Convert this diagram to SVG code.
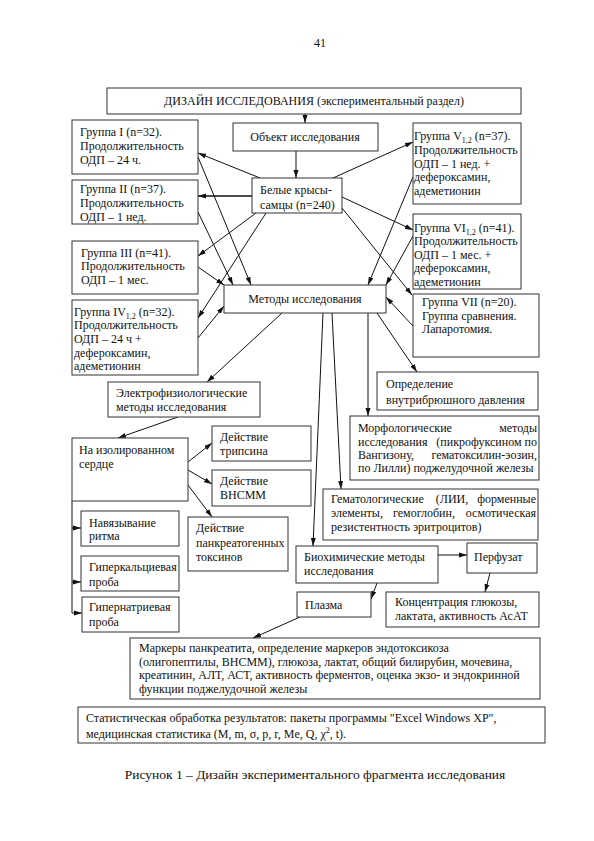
<svg xmlns="http://www.w3.org/2000/svg" width="594" height="841" viewBox="0 0 594 841" font-family="'Liberation Serif', 'Times New Roman', 'DejaVu Serif', serif">
<style>
text{font-family:'Liberation Serif','Times New Roman','DejaVu Serif',serif;font-size:12px;fill:#111}
.c{text-anchor:middle}
.e{text-anchor:end}
.sub{font-size:8px}
rect{fill:#fff;stroke:#333;stroke-width:1}
#connectors line{stroke:#111;stroke-width:1;fill:none}
</style>
<defs>
<marker id="ah" markerWidth="8" markerHeight="6" refX="8" refY="3" orient="auto" markerUnits="userSpaceOnUse">
<path d="M0,0.5 L8,3 L0,5.5 z" fill="#111"/>
</marker>
</defs>
<rect x="0" y="0" width="594" height="841" style="stroke:none;fill:#fff"/>
<text x="320" y="47" class="c">41</text>

<g id="connectors">
<line x1="305" y1="114" x2="305" y2="123" marker-end="url(#ah)"/>
<line x1="296" y1="151" x2="296" y2="178" marker-end="url(#ah)"/>
<line x1="260" y1="178" x2="198" y2="153" marker-end="url(#ah)"/>
<line x1="252" y1="196" x2="198" y2="196" marker-end="url(#ah)" style="stroke-width:1.5"/>
<line x1="256" y1="213" x2="198" y2="256" marker-end="url(#ah)"/>
<line x1="266" y1="213" x2="198" y2="318" marker-end="url(#ah)"/>
<line x1="333" y1="178" x2="413" y2="142" marker-end="url(#ah)"/>
<line x1="342" y1="197" x2="413" y2="230" marker-end="url(#ah)"/>
<line x1="342" y1="208" x2="412" y2="295" marker-end="url(#ah)"/>
<line x1="198" y1="157" x2="251" y2="285" marker-end="url(#ah)"/>
<line x1="198" y1="212" x2="233" y2="285" marker-end="url(#ah)"/>
<line x1="198" y1="267" x2="224" y2="285" marker-end="url(#ah)"/>
<line x1="198" y1="338" x2="224" y2="306" marker-end="url(#ah)"/>
<line x1="413" y1="177" x2="368" y2="285" marker-end="url(#ah)"/>
<line x1="413" y1="236" x2="386" y2="285" marker-end="url(#ah)"/>
<line x1="413" y1="326" x2="386" y2="297" marker-end="url(#ah)"/>
<line x1="377" y1="313" x2="417" y2="372" marker-end="url(#ah)"/>
<line x1="368" y1="313" x2="368" y2="416" marker-end="url(#ah)"/>
<line x1="332" y1="313" x2="341" y2="489" marker-end="url(#ah)"/>
<line x1="323" y1="313" x2="313" y2="546" marker-end="url(#ah)"/>
<line x1="282" y1="313" x2="207" y2="382" marker-end="url(#ah)"/>
<line x1="178" y1="417" x2="118" y2="438" marker-end="url(#ah)"/>
<line x1="188" y1="462" x2="212" y2="443" marker-end="url(#ah)"/>
<line x1="188" y1="470" x2="212" y2="484" marker-end="url(#ah)"/>
<line x1="188" y1="485" x2="212" y2="517" marker-end="url(#ah)"/>
<line x1="72" y1="501" x2="72" y2="613"/>
<line x1="72" y1="528" x2="81" y2="528" marker-end="url(#ah)"/>
<line x1="72" y1="582" x2="81" y2="582" marker-end="url(#ah)"/>
<line x1="72" y1="613" x2="82" y2="613" marker-end="url(#ah)"/>
<line x1="438" y1="555" x2="467" y2="555" marker-end="url(#ah)"/>
<line x1="490" y1="573" x2="485" y2="592" marker-end="url(#ah)"/>
<line x1="377" y1="583" x2="371" y2="599" marker-end="url(#ah)"/>
<line x1="300" y1="617" x2="253" y2="638" marker-end="url(#ah)"/>
</g>

<g id="design"><rect x="107" y="88" width="414" height="26"/><text x="314" y="105" class="c">ДИЗАЙН ИССЛЕДОВАНИЯ (экспериментальный раздел)</text></g>
<g id="object"><rect x="233" y="123" width="145" height="28"/><text x="305" y="141" class="c">Объект исследования</text></g>
<g id="rats"><rect x="252" y="178" width="90" height="35"/><text x="260" y="194">Белые крысы-</text><text x="260" y="209">самцы (n=240)</text></g>

<g id="g1"><rect x="72" y="120" width="126" height="54"/><text x="80" y="136">Группа  I (n=32).</text><text x="80" y="150">Продолжительность</text><text x="80" y="164">ОДП – 24 ч.</text></g>
<g id="g2"><rect x="72" y="180" width="126" height="44"/><text x="80" y="193">Группа  II (n=37).</text><text x="80" y="207">Продолжительность</text><text x="80" y="221">ОДП – 1 нед.</text></g>
<g id="g3"><rect x="72" y="241" width="126" height="53"/><text x="81" y="257">Группа  III (n=41).</text><text x="81" y="270">Продолжительность</text><text x="81" y="284">ОДП – 1 мес.</text></g>
<g id="g4"><rect x="72" y="300" width="126" height="75"/><text x="74" y="316">Группа  IV<tspan class="sub" baseline-shift="-3">1,2</tspan> (n=32).</text><text x="74" y="329">Продолжительность</text><text x="74" y="343">ОДП – 24 ч +</text><text x="74" y="357">дефероксамин,</text><text x="74" y="370">адеметионин</text></g>

<g id="g5"><rect x="413" y="123" width="108" height="81"/><text x="414" y="140">Группа  V<tspan class="sub" baseline-shift="-3">1,2</tspan>  (n=37).</text><text x="414" y="154">Продолжительность</text><text x="414" y="168">ОДП – 1 нед. +</text><text x="414" y="181">дефероксамин,</text><text x="414" y="195">адеметионин</text></g>
<g id="g6"><rect x="413" y="214" width="108" height="75"/><text x="414" y="232">Группа  VI<tspan class="sub" baseline-shift="-3">1,2</tspan> (n=41).</text><text x="414" y="245">Продолжительность</text><text x="414" y="259">ОДП – 1 мес. +</text><text x="414" y="272">дефероксамин,</text><text x="414" y="286">адеметионин</text></g>
<g id="g7"><rect x="413" y="294" width="126" height="63"/><text x="422" y="306">Группа VII (n=20).</text><text x="422" y="320">Группа сравнения.</text><text x="422" y="333">Лапаротомия.</text></g>

<g id="methods"><rect x="224" y="285" width="162" height="28"/><text x="305" y="303" class="c">Методы исследования</text></g>
<g id="pressure"><rect x="377" y="372" width="161" height="38"/><text x="386" y="388">Определение</text><text x="386" y="404">внутрибрюшного давления</text></g>
<g id="morph"><rect x="350" y="416" width="189" height="64"/>
<text x="358" y="432">Морфологические</text><text x="537" y="432" class="e">методы</text>
<text x="358" y="446">исследования</text><text x="537" y="446" class="e">(пикрофуксином по</text>
<text x="358" y="459">Вангизону,</text><text x="537" y="459" class="e">гематоксилин-эозин,</text>
<text x="358" y="472">по Лилли) поджелудочной железы</text></g>
<g id="hemat"><rect x="323" y="489" width="215" height="51"/>
<text x="331" y="503">Гематологические</text><text x="452" y="503" class="c">(ЛИИ,</text><text x="536" y="503" class="e">форменные</text>
<text x="331" y="517">элементы,</text><text x="424" y="517" class="c">гемоглобин,</text><text x="536" y="517" class="e">осмотическая</text>
<text x="331" y="531">резистентность эритроцитов)</text></g>
<g id="biochem"><rect x="296" y="546" width="142" height="37"/><text x="304" y="561">Биохимические методы</text><text x="304" y="575">исследования</text></g>
<g id="perfusate"><rect x="467" y="543" width="70" height="30"/><text x="474" y="561">Перфузат</text></g>
<g id="glucose"><rect x="386" y="592" width="153" height="35"/><text x="395" y="606">Концентрация глюкозы,</text><text x="395" y="620">лактата, активность АсАТ</text></g>
<g id="plasma"><rect x="297" y="592" width="74" height="25"/><text x="305" y="609">Плазма</text></g>
<g id="markers"><rect x="130" y="638" width="410" height="61"/><text x="139" y="652">Маркеры панкреатита, определение маркеров эндотоксикоза</text><text x="139" y="666">(олигопептилы, ВНСММ), глюкоза, лактат, общий билирубин, мочевина,</text><text x="139" y="679">креатинин, АЛТ, АСТ, активность ферментов, оценка экзо- и эндокринной</text><text x="139" y="693">функции поджелудочной железы</text></g>
<g id="stats"><rect x="78" y="707" width="467" height="36"/><text x="86" y="722">Статистическая обработка результатов: пакеты программы "Excel Windows XP",</text><text x="86" y="738">медицинская статистика (M, m, σ, p, r, Me, Q, χ<tspan class="sub" baseline-shift="5">2</tspan>, t).</text></g>

<g id="electro"><rect x="108" y="382" width="152" height="35"/><text x="116" y="397">Электрофизиологические</text><text x="116" y="411">методы исследования</text></g>
<g id="heart"><rect x="72" y="438" width="116" height="63"/><text x="79" y="454">На изолированном</text><text x="79" y="468">сердце</text></g>
<g id="trypsin"><rect x="212" y="426" width="99" height="35"/><text x="220" y="441">Действие</text><text x="220" y="455">трипсина</text></g>
<g id="vnsmm"><rect x="212" y="470" width="99" height="36"/><text x="220" y="485">Действие</text><text x="220" y="499">ВНСММ</text></g>
<g id="toxins"><rect x="188" y="517" width="100" height="54"/><text x="196" y="532">Действие</text><text x="196" y="547">панкреатогенных</text><text x="196" y="561">токсинов</text></g>
<g id="rhythm"><rect x="81" y="511" width="98" height="35"/><text x="89" y="527">Навязывание</text><text x="89" y="540">ритма</text></g>
<g id="hypercalc"><rect x="81" y="556" width="98" height="35"/><text x="89" y="571">Гиперкальциевая</text><text x="89" y="586">проба</text></g>
<g id="hypernat"><rect x="82" y="597" width="97" height="35"/><text x="89" y="611">Гипернатриевая</text><text x="89" y="626">проба</text></g>

<text x="315" y="779" class="c" style="font-size:13.5px">Рисунок 1 – Дизайн экспериментального фрагмента исследования</text>
</svg>
